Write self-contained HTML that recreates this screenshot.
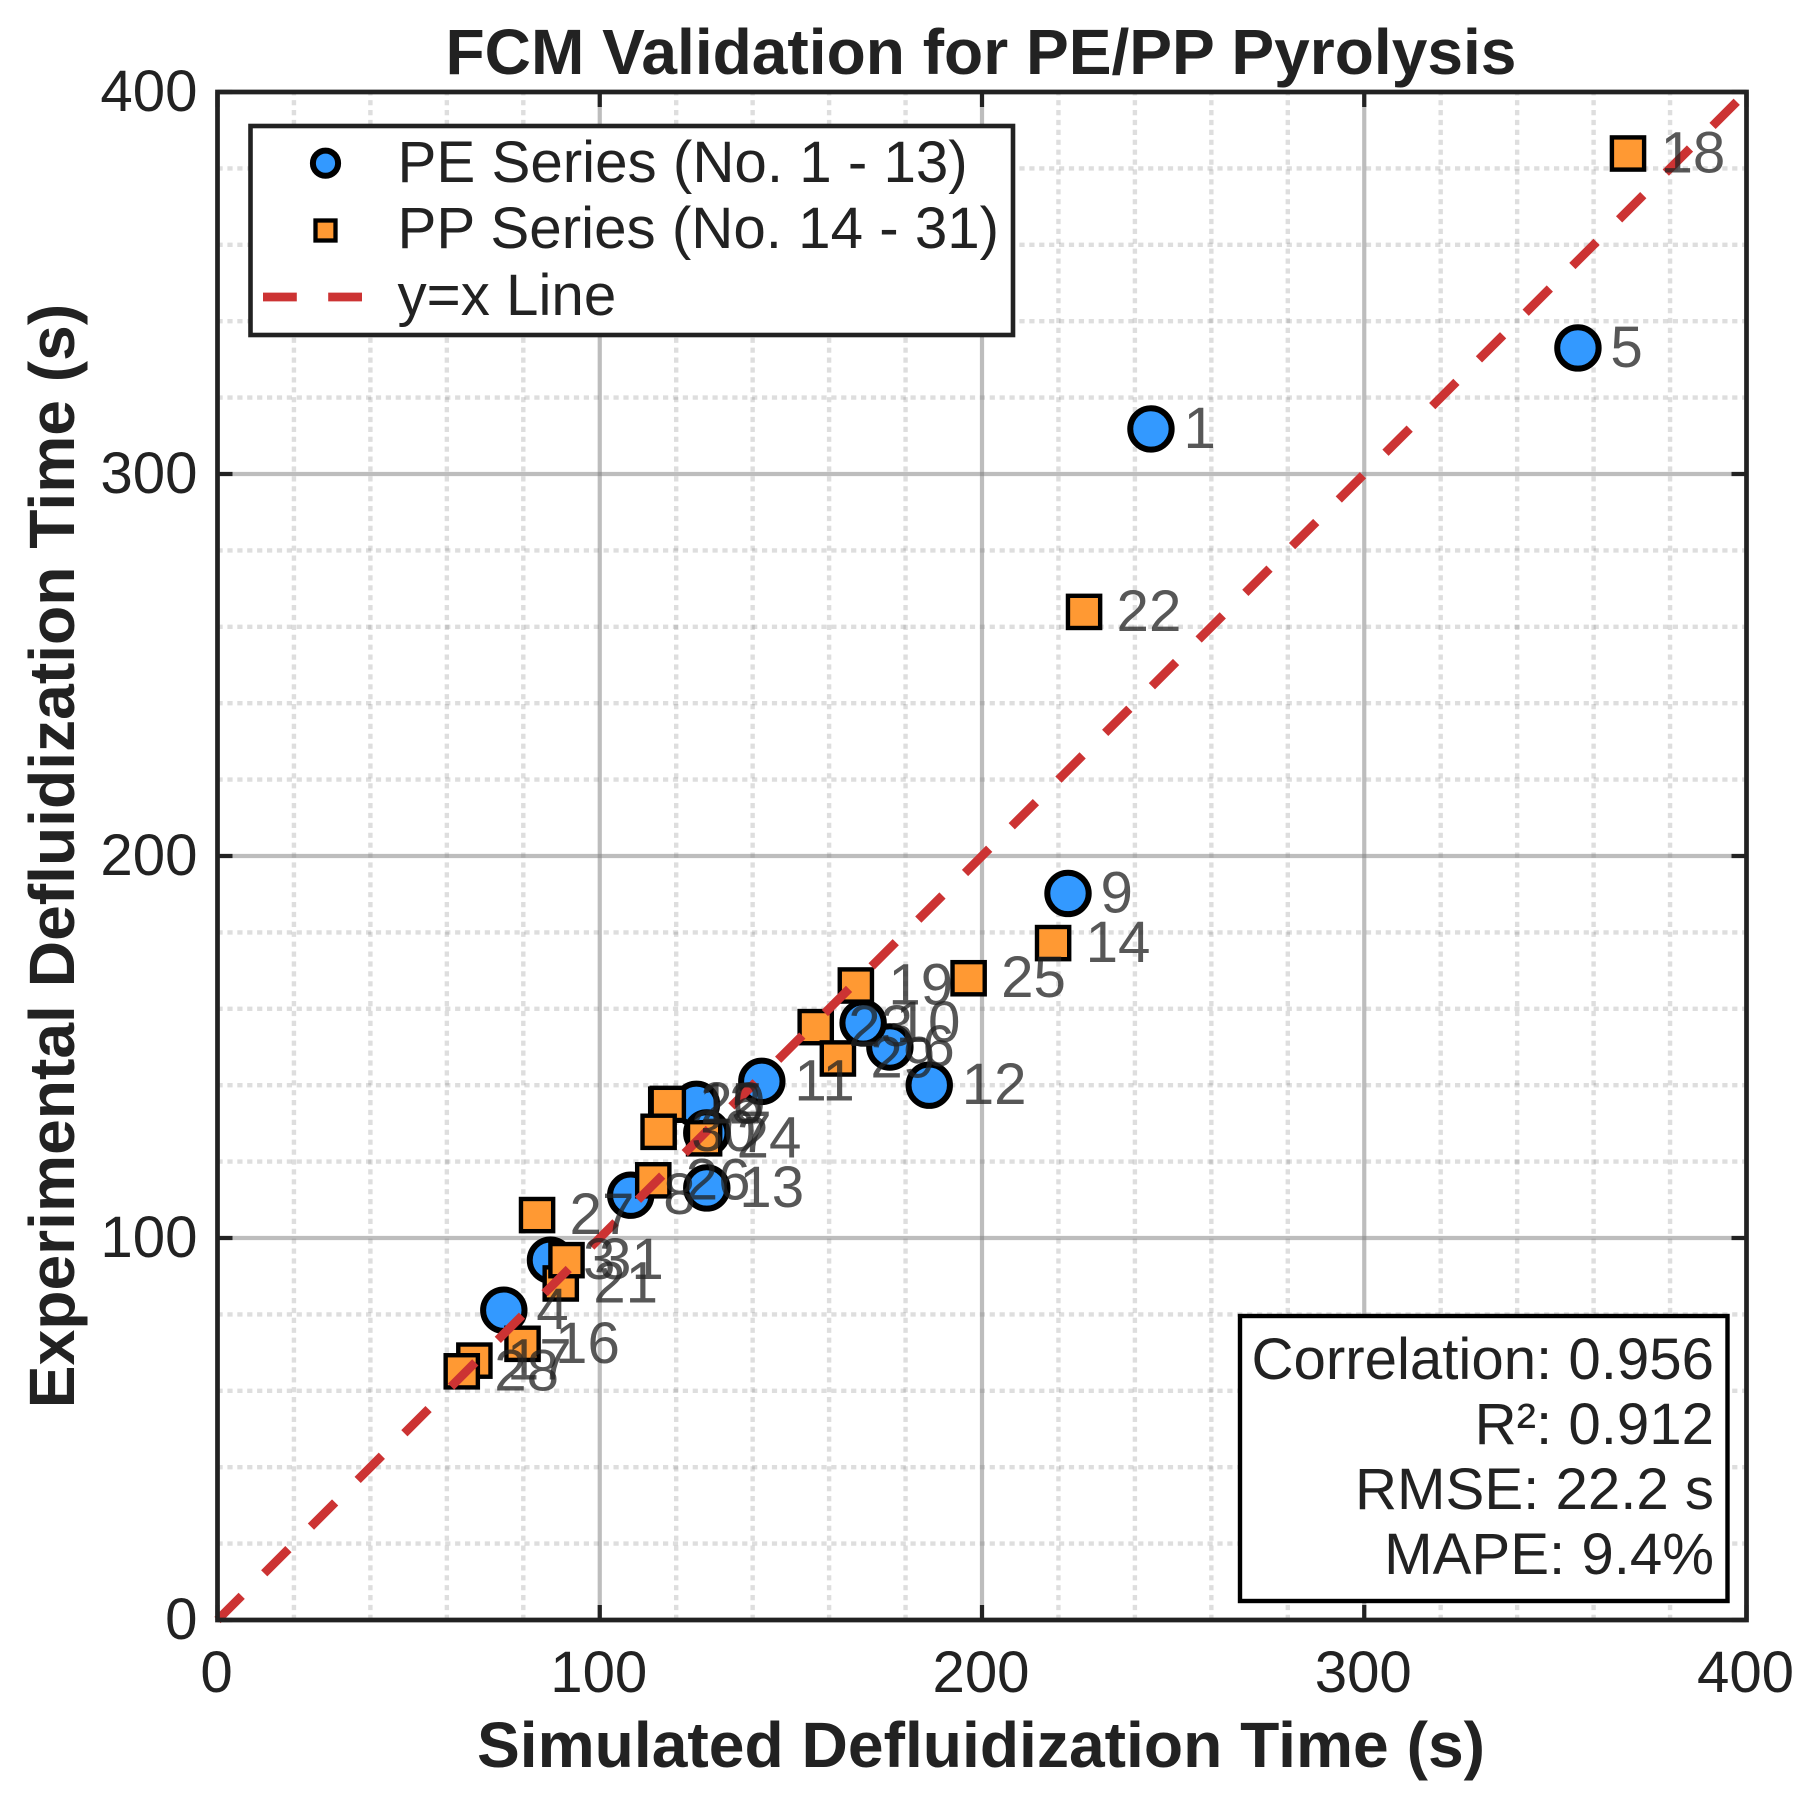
<!DOCTYPE html>
<html>
<head>
<meta charset="utf-8">
<title>FCM Validation for PE/PP Pyrolysis</title>
<style>
html,body{margin:0;padding:0;background:#fff;}
svg{display:block;}
text{font-family:"Liberation Sans",Arial,sans-serif;}
</style>
</head>
<body>
<svg id="chart" xmlns="http://www.w3.org/2000/svg" width="1810" height="1805" viewBox="0 0 1810 1805">
  <rect x="0" y="0" width="1810" height="1805" fill="#fff"/>
  <g id="grid"></g>
  <g id="pe-series"></g>
  <g id="pp-series"></g>
  <g id="ref-line"></g>
  <g id="annotations"></g>

  <g>
    <rect x="250.5" y="126" width="762.5" height="209" fill="#fff" stroke="#222" stroke-width="4.6"/>
    <circle cx="325.5" cy="163.2" r="12.6" fill="#3399ff" stroke="#000" stroke-width="6"/>
    <rect x="315.5" y="220.5" width="20" height="20" fill="#ff9933" stroke="#000" stroke-width="4.3"/>
    <line x1="263" y1="297" x2="362" y2="297" stroke="#cc3333" stroke-width="8.8" stroke-dasharray="33.8 31.4"/>
    <text x="397.5" y="182" font-size="58.3" fill="#222">PE Series (No. 1 - 13)</text>
    <text x="397.5" y="248" font-size="58.3" fill="#222">PP Series (No. 14 - 31)</text>
    <text x="397.5" y="315" font-size="58.3" fill="#222">y=x Line</text>
  </g>

  <g>
    <rect x="1240" y="1316" width="487.5" height="285" fill="#fff" stroke="#000" stroke-width="4.4"/>
    <text x="1714" y="1379" font-size="58.2" fill="#222" text-anchor="end">Correlation: 0.956</text>
    <text x="1714" y="1444" font-size="58.2" fill="#222" text-anchor="end">R²: 0.912</text>
    <text x="1714" y="1509" font-size="58.2" fill="#222" text-anchor="end">RMSE: 22.2 s</text>
    <text x="1714" y="1574" font-size="58.2" fill="#222" text-anchor="end">MAPE: 9.4%</text>
  </g>

  <g id="axes"></g>

  <text x="981" y="74" font-size="64.1" font-weight="bold" fill="#222" text-anchor="middle">FCM Validation for PE/PP Pyrolysis</text>
  <text x="981" y="1767" font-size="64.2" font-weight="bold" fill="#222" text-anchor="middle">Simulated Defluidization Time (s)</text>
  <text transform="translate(74,856) rotate(-90)" font-size="64.2" font-weight="bold" fill="#222" text-anchor="middle">Experimental Defluidization Time (s)</text>
</svg>
<script>
const peLabels = [1,2,3,4,5,6,7,8,9,10,11,12,13];
const peSimulated = [244.2,125.3,87.1,74.9,355.9,175.9,128,108.1,222.5,168.9,142.4,186.2,128];
const peExperimental = [311.8,135,94.2,81.1,333,150,127.5,111.2,190.2,156.3,141,140,113.1];

const ppLabels = [14,15,16,17,18,19,20,21,22,23,24,25,26,27,28,29,30,31];
const ppSimulated = [218.6,117.4,79.8,67.2,369,167,117.8,89.8,226.7,156.5,127.3,196.5,114,83.6,63.9,162.3,115.4,91.3];
const ppExperimental = [177.2,134.9,72.3,67.9,383.9,166.1,135.1,88.1,263.9,155.2,126.1,168,115.1,106,65.1,147,127.8,94.2];

const lineValues = [0,400];
const majorTicks = [0,100,200,300,400];
const minorTicks = [20,40,60,80,120,140,160,180,220,240,260,280,320,340,360,380];

const NS = 'http://www.w3.org/2000/svg';
const PL = 217.5, PR = 1746.5, PT = 92, PB = 1620, DMAX = 400;
function xs(v){ return PL + v / DMAX * (PR - PL); }
function ys(v){ return PB - v / DMAX * (PB - PT); }
function mk(tag, parent, attrs){
  const el = document.createElementNS(NS, tag);
  for (const k in attrs) el.setAttribute(k, attrs[k]);
  parent.appendChild(el);
  return el;
}

const grid = document.getElementById('grid');
minorTicks.forEach(function(t){
  const v = mk('line', grid, {x1:xs(t),x2:xs(t),y1:PB,y2:PT,stroke:'#808080','stroke-opacity':0.26,'stroke-width':4.4,'stroke-dasharray':'5.2 4.7'});
  
  
  const h = mk('line', grid, {x1:PL,x2:PR,y1:ys(t),y2:ys(t),stroke:'#808080','stroke-opacity':0.26,'stroke-width':4.4,'stroke-dasharray':'5.2 4.7'});
  
  
});
majorTicks.forEach(function(t){
  const v = mk('line', grid, {x1:xs(t),x2:xs(t),y1:PT,y2:PB,stroke:'#808080','stroke-opacity':0.52,'stroke-width':4.2});
  
  
  const h = mk('line', grid, {x1:PL,x2:PR,y1:ys(t),y2:ys(t),stroke:'#808080','stroke-opacity':0.52,'stroke-width':4.2});
  
  
});

const peG = document.getElementById('pe-series');
peSimulated.forEach(function(x, i){
  const c = mk('circle', peG, {cx:xs(x),cy:ys(peExperimental[i]),r:20.7,fill:'#3399ff',stroke:'#000','stroke-width':6});
  
  
});

const ppG = document.getElementById('pp-series');
ppSimulated.forEach(function(x, i){
  const s = mk('rect', ppG, {x:xs(x)-16.1,y:ys(ppExperimental[i])-16.1,width:32.2,height:32.2,fill:'#ff9933',stroke:'#000','stroke-width':4.4});
  
  
});

const refG = document.getElementById('ref-line');
const refLine = mk('line', refG, {x1:xs(lineValues[0]),y1:ys(lineValues[0]),x2:xs(lineValues[1]),y2:ys(lineValues[1]),stroke:'#cc3333','stroke-width':8.8,'stroke-dasharray':'34.2 31.85'});



const annG = document.getElementById('annotations');
function addLabels(labels, xsArr, ysArr){
  labels.forEach(function(lab, i){
    const t = mk('text', annG, {x:xs(xsArr[i])+32.5,y:ys(ysArr[i])+19,'font-size':58.3,fill:'#222','fill-opacity':0.76});
    
    
    t.textContent = String(lab);
  });
}
addLabels(peLabels, peSimulated, peExperimental);
addLabels(ppLabels, ppSimulated, ppExperimental);

const axes = document.getElementById('axes');
majorTicks.forEach(function(t){
  const segs = [
    [xs(t),PB,xs(t),PB-15],[xs(t),PT,xs(t),PT+15],
    [PL,ys(t),PL+15,ys(t)],[PR,ys(t),PR-15,ys(t)]
  ];
  segs.forEach(function(s){
    const l = mk('line', axes, {x1:s[0],y1:s[1],x2:s[2],y2:s[3],stroke:'#222','stroke-width':4.2});
    
    
  });
  const xl = mk('text', axes, {x:xs(t)-1,y:1692,'font-size':58.2,fill:'#222','text-anchor':'middle'});
  
  
  xl.textContent = String(t);
  const yl = mk('text', axes, {x:197.5,y:ys(t)+19,'font-size':58.2,fill:'#222','text-anchor':'end'});
  
  
  yl.textContent = String(t);
});
const frame = mk('rect', axes, {x:PL,y:PT,width:PR-PL,height:PB-PT,fill:'none',stroke:'#222','stroke-width':4.7});


</script>
</body>
</html>
